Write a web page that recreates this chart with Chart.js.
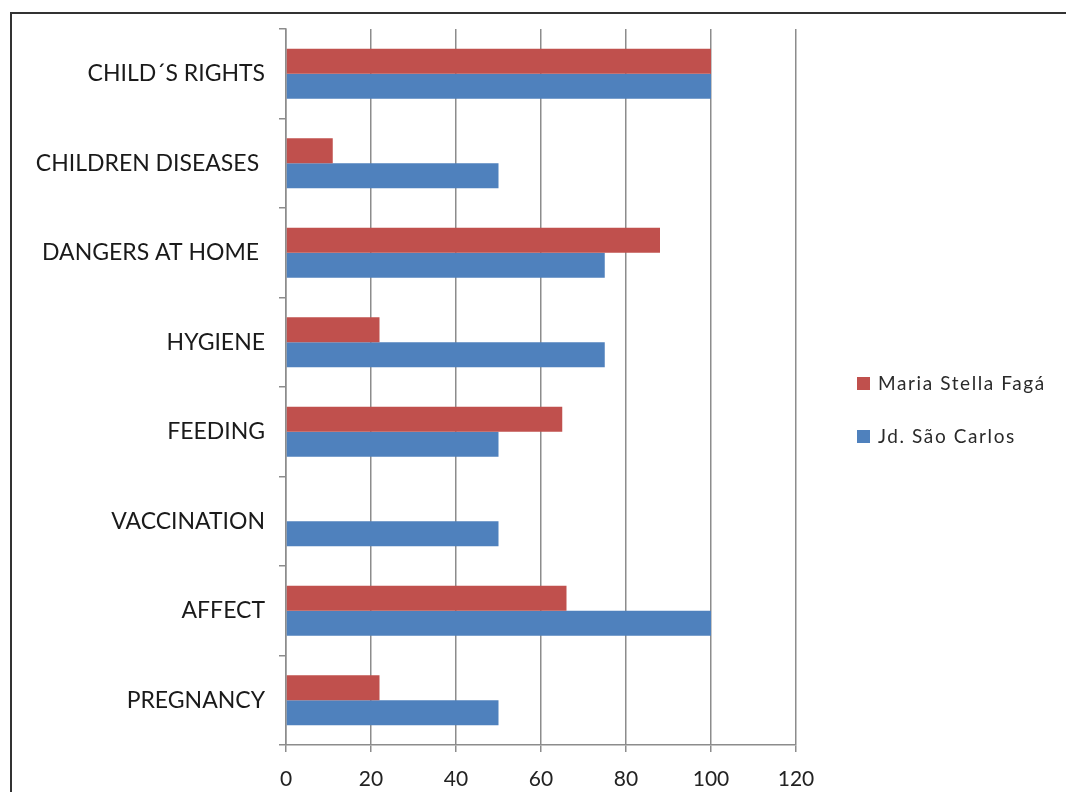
<!DOCTYPE html>
<html>
<head>
<meta charset="utf-8">
<script src="https://cdn.jsdelivr.net/npm/chart.js@4.4.1/dist/chart.umd.min.js"></script>
<style>
    html, body { margin: 0; padding: 0; background: #fff; overflow: hidden; }
    #frame {
        position: absolute; left: 10px; top: 12px;
        width: 1100px; height: 900px;
        border: 2px solid #333;
    }
    #wrap { position: absolute; left: 0; top: 0; width: 1066px; height: 792px; }
</style>
</head>
<body>
<div id="frame"></div>
<div id="wrap"><canvas id="chart"></canvas></div>
<script>
// Chart data
const categories = ['CHILD\u00B4S RIGHTS', 'CHILDREN DISEASES ', 'DANGERS AT HOME ', 'HYGIENE',
    'FEEDING', 'VACCINATION', 'AFFECT', 'PREGNANCY'];
const mariaStella = [100, 11, 88, 22, 65, 0, 66, 22];
const saoCarlos = [100, 50, 75, 75, 50, 50, 100, 50];
const seriesNames = ['Maria Stella Fag\u00E1', 'Jd. S\u00E3o Carlos'];
const xTicks = [0, 20, 40, 60, 80, 100, 120];

const RED = '#C0504D';
const BLUE = '#4F81BD';
const GRID = '#8c8c8c';
const FONT = 'Lato, "Open Sans", sans-serif';

// Simple legend drawn on the right side
const sideLegend = {
    id: 'sideLegend',
    afterDraw(chart) {
        const ctx = chart.ctx;
        ctx.save();
        ctx.font = '19px ' + FONT;
        ctx.letterSpacing = '1.6px';
        ctx.textBaseline = 'middle';
        chart.data.datasets.forEach((ds, i) => {
            const y = 384 + i * 53;
            ctx.fillStyle = ds.backgroundColor;
            ctx.fillRect(857, y - 7, 13, 13);
            ctx.fillStyle = '#2a2a2a';
            ctx.fillText(ds.label, 878, y);
        });
        ctx.restore();
    }
};

const ctx = document.getElementById('chart');
new Chart(ctx, {
    type: 'bar',
    data: {
        labels: categories,
        datasets: [
            { label: seriesNames[0], data: mariaStella, backgroundColor: RED },
            { label: seriesNames[1], data: saoCarlos, backgroundColor: BLUE }
        ]
    },
    options: {
        indexAxis: 'y',
        responsive: true,
        maintainAspectRatio: false,
        animation: false,
        categoryPercentage: 0.56,
        barPercentage: 1.0,
        layout: { padding: { top: 29, right: 270, left: 0, bottom: 0 } },
        plugins: {
            legend: { display: false },
            tooltip: { enabled: false }
        },
        scales: {
            x: {
                min: 0,
                max: 120,
                afterBuildTicks(scale) {
                    scale.ticks = xTicks.map(v => ({ value: v }));
                },
                afterFit(scale) { scale.height = 47; },
                border: { color: GRID, width: 1.5 },
                grid: { color: GRID, lineWidth: 1.5, tickLength: 7 },
                ticks: {
                    color: '#222',
                    padding: 15,
                    font: { family: FONT, size: 21 }
                }
            },
            y: {
                afterFit(scale) { scale.width = 286; },
                border: { color: GRID, width: 1.5 },
                grid: { drawOnChartArea: false, color: GRID, lineWidth: 1.5, tickLength: 7, offset: true },
                ticks: {
                    color: '#1a1a1a',
                    padding: 14,
                    font: { family: FONT, size: 23 }
                }
            }
        }
    },
    plugins: [sideLegend]
});
</script>
</body>
</html>
